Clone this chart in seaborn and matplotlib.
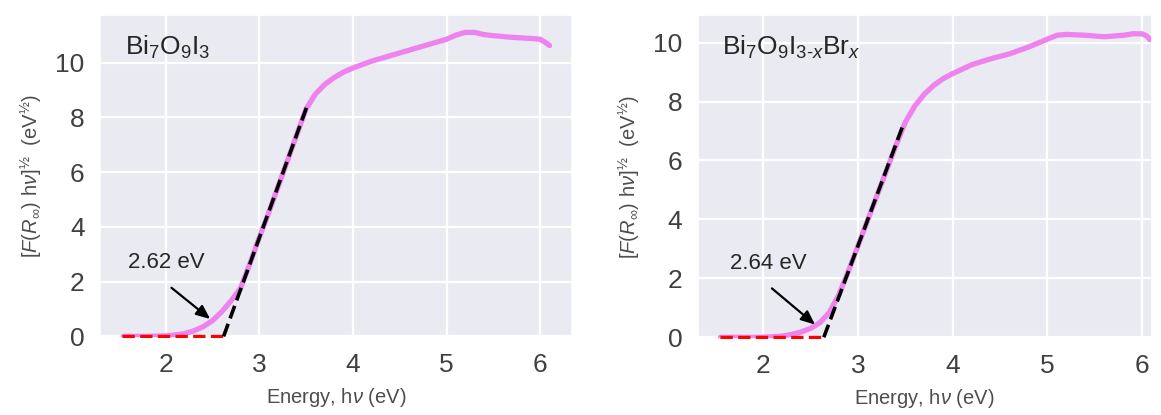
import matplotlib
matplotlib.use("Agg")
import matplotlib.pyplot as plt
import seaborn as sns
import pandas as pd

# Bi7O9I3 (left panel)
energy_a = [1.55, 1.8, 2.0, 2.1, 2.2, 2.3, 2.4, 2.5, 2.6, 2.7, 2.8, 2.9, 3.0, 3.1, 3.2,
            3.3, 3.4, 3.5, 3.6, 3.7, 3.8, 3.9, 4.0, 4.2, 4.4, 4.6, 4.8, 5.0, 5.1, 5.2,
            5.3, 5.4, 5.5, 5.6, 5.7, 5.8, 5.9, 6.0, 6.05, 6.1]
kubelka_a = [0.0, 0.0, 0.02, 0.05, 0.1, 0.2, 0.35, 0.57, 0.9, 1.3, 1.75, 2.65, 3.6, 4.5, 5.45,
             6.4, 7.35, 8.3, 8.85, 9.2, 9.45, 9.65, 9.8, 10.05, 10.25, 10.45, 10.65, 10.85, 11.0, 11.1,
             11.1, 11.02, 10.98, 10.95, 10.92, 10.9, 10.88, 10.85, 10.75, 10.62]
base_a = [1.53, 2.62]      # red baseline, x range at y = 0
tangent_a = [(2.62, 0.0), (3.51, 8.4)]
gap_a = "2.62 eV"

# Bi7O9I3-xBrx (right panel)
energy_b = [1.55, 2.0, 2.2, 2.3, 2.4, 2.5, 2.6, 2.7, 2.8, 2.9, 3.0, 3.1, 3.2, 3.3, 3.4,
            3.5, 3.6, 3.7, 3.8, 3.9, 4.0, 4.2, 4.4, 4.6, 4.8, 5.0, 5.1, 5.2, 5.4, 5.6,
            5.8, 5.9, 6.0, 6.05, 6.08]
kubelka_b = [0.0, 0.0, 0.04, 0.1, 0.18, 0.3, 0.5, 0.85, 1.45, 2.25, 3.1, 3.95, 4.8, 5.65, 6.5,
             7.3, 7.85, 8.25, 8.55, 8.78, 8.95, 9.25, 9.45, 9.62, 9.85, 10.12, 10.25, 10.28, 10.25, 10.2,
             10.25, 10.3, 10.3, 10.22, 10.1]
base_b = [1.545, 2.64]
tangent_b = [(2.64, 0.0), (3.48, 7.23)]
gap_b = "2.64 eV"

sns.set_theme(style="darkgrid")
plt.rcParams['font.family'] = ['Liberation Sans', 'DejaVu Sans']
plt.rcParams['mathtext.fontset'] = 'custom'
plt.rcParams['mathtext.rm'] = 'Liberation Sans'
plt.rcParams['mathtext.it'] = 'Liberation Sans:italic'

fig = plt.figure(figsize=(11.61, 4.15), dpi=100)
ax1 = fig.add_axes([0.0861, 0.1855, 0.4066, 0.778])
ax2 = fig.add_axes([0.601, 0.183, 0.391, 0.781])

ylab = r'$[F(R_{\infty})\ \mathrm{h}\nu]^{\mathrm{½}}$  (eV$^{\mathrm{½}}$)'

panels = [
    (ax1, energy_a, kubelka_a, base_a, tangent_a, gap_a, r'Bi$_7$O$_9$I$_3$',
     (2.5, 0.57), (2.04, 1.84), (1.6, 2.68), (1.3, 6.34), (-0.06, 11.73)),
    (ax2, energy_b, kubelka_b, base_b, tangent_b, gap_b, r'Bi$_7$O$_9$I$_{3\text{-}x}$Br$_x$',
     (2.57, 0.37), (2.07, 1.72), (1.65, 2.5), (1.31, 6.1), (-0.06, 10.94)),
]

for ax, ex, ky, base, tan, gap, name, head, tail, tpos, xl, yl in panels:
    df = pd.DataFrame({'E': ex, 'K': ky})
    sns.lineplot(data=df, x='E', y='K', ax=ax, color='violet', lw=3.8, zorder=2)
    sns.lineplot(x=base, y=[0, 0], ax=ax, color='red', lw=2.4, linestyle='--', zorder=3)
    sns.lineplot(x=[p[0] for p in tan], y=[p[1] for p in tan], ax=ax,
                 color='black', lw=2.6, linestyle='--', zorder=3)
    ax.annotate('', xy=head, xytext=tail,
                arrowprops=dict(arrowstyle='-|>,head_length=0.7,head_width=0.3',
                                color='black', lw=1.6))
    ax.text(tpos[0], tpos[1], gap, fontsize=16, va='center', ha='left')
    ax.text(0.053, 0.90, name, transform=ax.transAxes, fontsize=19, va='center')
    ax.set_xlim(*xl)
    ax.set_ylim(*yl)
    ax.set_xticks([2, 3, 4, 5, 6])
    ax.set_yticks([0, 2, 4, 6, 8, 10])
    ax.tick_params(labelsize=19, colors='0.25', pad=5)
    ax.set_xlabel(r'Energy, h$\nu$ (eV)', fontsize=14.5, color='0.3', labelpad=6)
    ax.set_ylabel(ylab, fontsize=14.5, color='0.3', labelpad=8)
    for gl in ax.get_xgridlines() + ax.get_ygridlines():
        gl.set_linewidth(1.6)

fig.savefig('out.png', dpi=100)
